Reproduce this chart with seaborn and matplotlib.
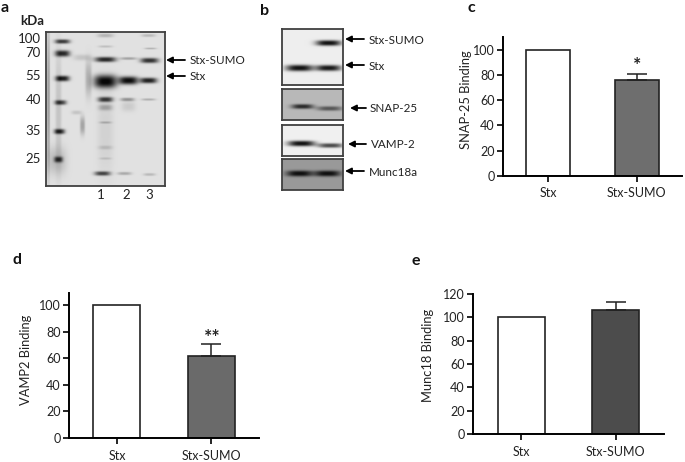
import numpy as np
import pandas as pd
import matplotlib
matplotlib.use("Agg")
import matplotlib.pyplot as plt
import seaborn as sns

# bar data
groups = ["Stx", "Stx-SUMO"]
snap25_values = [100, 76]
snap25_err = [0, 5]
vamp2_values = [100, 61.5]
vamp2_err = [0, 9.5]
munc18_values = [100, 106]
munc18_err = [0, 7]

# gel text
kda_labels = ["100", "70", "55", "40", "35", "25"]
lane_labels = ["1", "2", "3"]
blot_labels = ["Stx-SUMO", "Stx", "SNAP-25", "VAMP-2", "Munc18a"]

# gel bands: x centre, y centre, half width, half height, darkness
gel_a_bands = [
    (62, 41, 7.5, 2.2, .75), (62, 53, 7.5, 3.2, .85), (62, 78, 7, 2.8, .9),
    (60, 102, 6, 2.4, .72), (59, 131, 5.5, 2.6, .8), (58, 159, 4.5, 3, .65),
    (58, 110, 3, 60, .13), (48, 100, 1.5, 70, .3), (56, 160, 10, 14, .17),
    (82, 57, 9, 3, .13), (88, 78, 3.2, 18, .22), (76, 112, 5, 2, .13),
    (82, 125, 2.5, 9, .28),
    (105, 35, 8, 2, .2), (105, 46, 7, 1.2, .15), (105, 59, 10.5, 2.6, .85),
    (105, 81, 11.5, 6.5, 1.0), (105, 99, 7.5, 2.6, .75), (105, 107, 7, 3, .25),
    (105, 122, 6, 1.2, .2), (105, 147, 7, 2, .13), (105, 158, 6, 1.2, .12),
    (102, 173, 8, 2.2, .7), (105, 130, 8, 45, .07),
    (128, 58, 8, 1.4, .28), (128, 80, 9.5, 4, .98), (127, 99, 7, 1.8, .35),
    (128, 106, 7, 5, .1), (124, 173, 7, 1.6, .25),
    (148, 35, 7, 1.5, .18), (150, 48, 6, 1, .2), (149, 60, 9, 2.6, .8),
    (148, 80, 8.5, 2.8, .88), (148, 99, 7, 1.2, .22), (149, 174, 6, 1.4, .18),
]
gel_b1_bands = [(299, 68, 13.5, 3.2, .95), (328, 68, 12.5, 3, .92), (328, 43, 12.5, 2.8, .95)]
gel_b2_bands = [(302, 106, 11, 2.4, .8), (329, 108, 12.5, 2.3, .55)]
gel_b3_bands = [(301, 143, 13.5, 2.8, .95), (330, 145, 12.5, 2.3, .7)]
gel_b4_bands = [(299, 173, 13, 3, .95), (327, 173, 13, 3, .95)]

W, H = 685, 462
sns.set_style("white")
plt.rcParams["font.family"] = ["Lato", "DejaVu Sans"]

fig = plt.figure(figsize=(W / 100, H / 100), dpi=100)


def px_axes(left, top, right, bottom):
    return fig.add_axes([left / W, 1 - bottom / H, (right - left) / W, (bottom - top) / H])


def draw_gel(box, bands, background, edge="#404040"):
    left, top, right, bottom = box
    ax = px_axes(left, top, right, bottom)
    xs = np.arange(left, right, 0.5)
    ys = np.arange(top, bottom, 0.5)
    xx, yy = np.meshgrid(xs, ys)
    ink = np.zeros_like(xx)
    for cx, cy, hw, hh, dark in bands:
        ink += dark * np.exp(-np.abs((xx - cx) / hw) ** 3) * np.exp(-np.abs((yy - cy) / hh) ** 2.5)
    img = background * (1 - np.clip(ink, 0, 1)) + 0.03 * np.clip(ink, 0, 1)
    sns.heatmap(img, ax=ax, cmap="gray", vmin=0, vmax=1, cbar=False,
                xticklabels=False, yticklabels=False, rasterized=True)
    for s in ax.spines.values():
        s.set_visible(True)
        s.set_color(edge)
        s.set_linewidth(1.3)


def draw_bars(box, values, err, ylim, yticks, color, ylabel, label_x, label_y, pad):
    left, top, right, bottom = box
    ax = px_axes(left, top, right, bottom)
    df = pd.DataFrame({"group": groups, "value": values})
    sns.barplot(data=df, x="group", y="value", hue="group", palette=["white", color],
                legend=False, width=0.5, edgecolor="#222222", linewidth=1.2, ax=ax)
    ax.errorbar([1], [values[1]], yerr=[[0], [err[1]]], color="#222222", lw=1.1,
                capsize=7, capthick=1.1, zorder=1)
    ax.set_xlim(-0.51, 1.51)
    ax.set_ylim(0, ylim)
    ax.set_yticks(yticks)
    ax.set_xlabel("")
    ax.set_ylabel(ylabel, fontsize=9.3, color="#222222")
    ax.yaxis.set_label_coords((label_x + 6 - left) / (right - left), (bottom - label_y) / (bottom - top))
    sns.despine(ax=ax)
    for side in ["left", "bottom"]:
        ax.spines[side].set_linewidth(1.4)
        ax.spines[side].set_color("black")
    ax.tick_params(axis="both", direction="out", length=4, width=1.2, color="black",
                   labelsize=9, labelcolor="#222222", bottom=True, left=True)
    ax.tick_params(axis="x", pad=pad)
    ax.tick_params(axis="y", pad=2)
    return ax


draw_gel((46, 32, 165, 186), gel_a_bands, 0.88)
draw_gel((282, 29, 343, 85), gel_b1_bands, 0.93)
draw_gel((282, 89, 343, 120), gel_b2_bands, 0.72)
draw_gel((282, 125, 343, 156), gel_b3_bands, 0.94)
draw_gel((282, 159, 343, 190), gel_b4_bands, 0.6)

draw_bars((503, 37, 682, 176), snap25_values, snap25_err, 110, range(0, 101, 20),
          "#6e6e6e", "SNAP-25 Binding", 466, 100, 3.7)
draw_bars((69, 293, 259, 438), vamp2_values, vamp2_err, 109, range(0, 101, 20),
          "#6a6a6a", "VAMP2 Binding", 26, 360, 5)
draw_bars((473, 294, 664, 434), munc18_values, munc18_err, 120, range(0, 121, 20),
          "#4c4c4c", "Munc18 Binding", 428, 355, 5)

# overlay in image pixels for the panel letters, gel labels and arrows
ov = fig.add_axes([0, 0, 1, 1], facecolor="none")
ov.set_xlim(0, W)
ov.set_ylim(H, 0)
ov.axis("off")

for letter, x, y in [("a", 5, 8), ("b", 265, 11), ("c", 471, 8), ("d", 17, 260), ("e", 416, 261)]:
    ov.text(x, y, letter, fontsize=11.5, fontweight="bold", ha="center", va="center", color="#111111")

ov.text(32, 21, "kDa", fontsize=9.5, fontweight="bold", ha="center", va="center", color="#222222")
for label, y in zip(kda_labels, [39, 53, 76, 100, 131, 159]):
    ov.text(41, y, label, fontsize=9.5, ha="right", va="center", color="#222222")
for label, x in zip(lane_labels, [101, 126, 149]):
    ov.text(x, 195, label, fontsize=9.5, ha="center", va="center", color="#222222")

# label, text x, text y, arrow tip x, arrow tail x, arrow y
arrow_rows = [
    (blot_labels[0], 190, 60, 166, 185, 60),
    (blot_labels[1], 190, 77, 166, 185, 76),
    (blot_labels[0], 369, 40, 345, 364, 39),
    (blot_labels[1], 369, 67, 345, 364, 65),
    (blot_labels[2], 370, 108, 350, 366, 108),
    (blot_labels[3], 371, 145, 348, 366, 144),
    (blot_labels[4], 369, 172, 345, 364, 171),
]
for label, tx, ty, tip, tail, ay in arrow_rows:
    ov.text(tx, ty, label, fontsize=8.4, ha="left", va="center", color="#222222")
    ov.annotate("", xy=(tip, ay), xytext=(tail, ay),
                arrowprops=dict(arrowstyle="-|>", color="black", lw=1.3, mutation_scale=9,
                                shrinkA=0, shrinkB=0))

ov.text(637, 66, "*", fontsize=14, fontweight="bold", ha="center", va="center", color="#222222")
ov.text(212, 338, "**", fontsize=14, fontweight="bold", ha="center", va="center", color="#222222")

fig.savefig("out.png", dpi=100)
